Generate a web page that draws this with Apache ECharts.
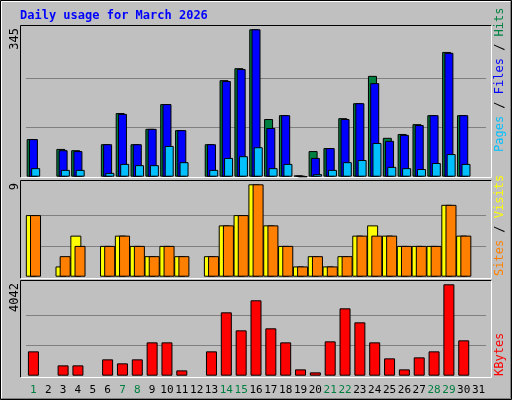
<!DOCTYPE html>
<html><head><meta charset="utf-8">
<script src="https://cdn.jsdelivr.net/npm/echarts@6/dist/echarts.min.js"></script>
<style>body{margin:0;background:#c0c0c0}#c{width:512px;height:400px}</style>
</head><body><div id="c"></div>
<script>
const days = Array.from({length:31},(_,i)=>String(i+1));
const weekend = ['1','7','8','14','15','21','22','28','29'];
const hits   = [88,null,65,62,null,76,149,76,112,170,109,null,76,226,254,345,135,144,3,60,67,137,172,236,91,100,123,144,292,144,null];
const files  = [88,null,62,60,null,76,147,76,112,170,109,null,76,224,252,345,114,144,2,44,67,135,172,219,84,98,121,144,290,144,null];
const pages  = [20,null,16,16,null,9,30,27,27,72,34,null,16,44,48,69,20,30,0,6,16,34,39,79,23,20,18,32,53,30,null];
const visits = [6,null,1,4,null,3,4,3,2,3,2,null,2,5,6,9,5,3,1,2,1,2,4,5,4,3,3,3,7,4,null];
const sites  = [6,null,2,3,null,3,4,3,2,3,2,null,2,5,6,9,5,3,1,2,1,2,4,4,4,3,3,3,7,4,null];
const kbytes = [1077,null,457,457,null,723,546,723,1475,1475,236,null,1077,2803,2006,3334,2095,1475,280,148,1519,2980,2360,1475,767,280,811,1077,4042,1564,null];
const maxHits = 345, maxVisits = 9, maxKB = 4042;

const FONT = 'DejaVu Sans Mono';
const chart = echarts.init(document.getElementById('c'));
const grids = [
  {left:26,width:460,top:29.3,height:147.4},
  {left:26,width:460,top:184.3,height:92.4},
  {left:26,width:460,top:284.3,height:91.4}
];
const splitCol = ['transparent','#808080','#808080','transparent'];
function xa(i,show){return {type:'category',gridIndex:i,data:days,boundaryGap:true,axisLine:{show:false},axisTick:{show:false},
  axisLabel:{show:show,interval:0,margin:9,fontFamily:FONT,fontSize:11,
    color:(v)=>weekend.includes(v)?'#008040':'#000000'}};}
function ya(i,max){return {type:'value',gridIndex:i,min:0,max:max,interval:max/3,axisLabel:{show:false},axisLine:{show:false},axisTick:{show:false},
  splitLine:{show:true,lineStyle:{color:splitCol,width:1}}};}
function bar(name,data,i,color,w,gap){return {name,type:'bar',xAxisIndex:i,yAxisIndex:i,data,barWidth:w,barGap:gap,
  itemStyle:{color,borderColor:'#000',borderWidth:1},animation:false,silent:true};}
function frame(x1,y1,x2,y2){return [
  {type:'line',shape:{x1,y1,x2,y2:y1},style:{stroke:'#000',lineWidth:1}},
  {type:'line',shape:{x1,y1,x2:x1,y2},style:{stroke:'#000',lineWidth:1}},
  {type:'line',shape:{x1,y1:y2,x2,y2},style:{stroke:'#fff',lineWidth:1}},
  {type:'line',shape:{x1:x2,y1,x2,y2},style:{stroke:'#fff',lineWidth:1}}];}
function rot(x,y,rich,text){return {type:'text',x,y,rotation:Math.PI/2,style:{text,rich,fontFamily:FONT,fontSize:12,align:'left',verticalAlign:'middle'}};}
function num(x,y,t){return {type:'text',x,y,rotation:Math.PI/2,style:{text:t,fontFamily:FONT,fontSize:12,fill:'#000',align:'right',verticalAlign:'middle'}};}

chart.setOption({
  backgroundColor:'#c0c0c0',
  grid:grids,
  xAxis:[xa(0,false),xa(1,false),xa(2,true)],
  yAxis:[ya(0,maxHits),ya(1,maxVisits),ya(2,maxKB)],
  series:[
    bar('Hits',hits,0,'#008040',9,'-75%'),
    bar('Files',files,0,'#0000ff',9,'-75%'),
    bar('Pages',pages,0,'#00c0ff',9,'-75%'),
    bar('Visits',visits,1,'#ffff00',11,'-62%'),
    bar('Sites',sites,1,'#ff8000',11,'-62%'),
    bar('KBytes',kbytes,2,'#ff0000',11,'-62%')
  ],
  graphic:[
    {type:'rect',shape:{x:0.5,y:0.5,width:511,height:399},style:{fill:'none',stroke:'#000'}},
    {type:'polyline',shape:{points:[[1.5,398.5],[1.5,1.5],[510.5,1.5]]},style:{stroke:'#fff',fill:'none'}},
    {type:'polyline',shape:{points:[[1.5,398.5],[510.5,398.5],[510.5,1.5]]},style:{stroke:'#808080',fill:'none'}},
    {type:'text',x:20,y:16,style:{text:'Daily usage for March 2026',fontFamily:FONT,fontSize:12,fontWeight:'bold',fill:'#0000ff',verticalAlign:'middle'}},
    ...frame(20.5,25.5,491.5,177.5),
    ...frame(20.5,180.5,491.5,278.5),
    ...frame(20.5,280.5,491.5,377.5),
    num(15,28,'345'),num(15,183,'9'),num(15,283,'4042'),
    rot(500,152,{p:{fill:'#00c0ff'},f:{fill:'#0000ff'},h:{fill:'#008040'},s:{fill:'#000'}},'{p|Pages}{s| / }{f|Files}{s| / }{h|Hits}'),
    rot(500,276,{p:{fill:'#ff8000'},f:{fill:'#ffff00'},s:{fill:'#000'}},'{p|Sites}{s| / }{f|Visits}'),
    rot(500,376,{p:{fill:'#ff0000'}},'{p|KBytes}')
  ]
});
</script></body></html>
